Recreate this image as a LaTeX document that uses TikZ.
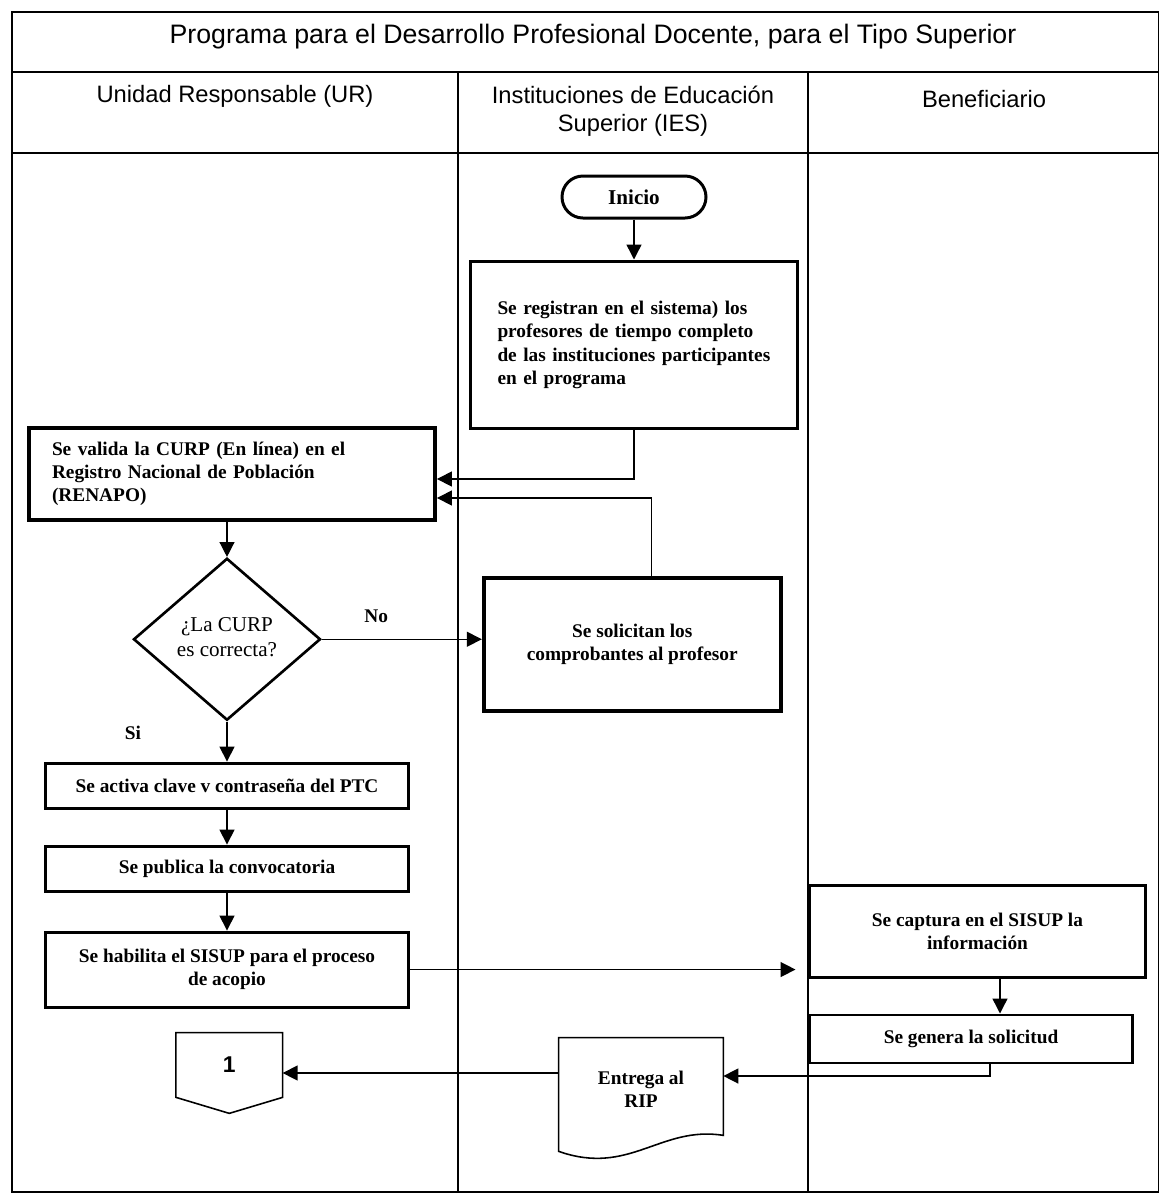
\documentclass[tikz,border=0pt]{standalone}
\usepackage{fontspec}
\setmainfont{Liberation Serif}
\newfontfamily\arial{Liberation Sans}
\usetikzlibrary{arrows.meta, shapes, positioning}

\tikzset{
  caja/.style={draw, line width=1.7pt, font=\bfseries\fontsize{11}{13.2}\selectfont, align=center, inner sep=2pt},
  cajag/.style={caja, line width=2.2pt},
  flecha/.style={-{Triangle[length=8.5pt,width=8.5pt]}, line width=0.8pt},
  etq/.style={font=\bfseries\fontsize{11}{13.2}\selectfont},
  carril/.style={line width=0.9pt},
  titulo/.style={font=\arial\fontsize{13.5}{16}\selectfont, align=center}
}

\begin{document}
\begin{tikzpicture}
\useasboundingbox (0,0) rectangle (23.2,-24.06);
% marco y carriles
\draw[carril] (0.24,-0.24) rectangle (23.17,-23.84);
\draw[carril] (0.24,-1.44) -- (23.17,-1.44);
\draw[carril] (0.24,-3.06) -- (23.17,-3.06);
\draw[carril] (9.16,-1.44) -- (9.16,-23.84);
\draw[carril] (16.16,-1.44) -- (16.16,-23.84);

\node[titulo, font=\arial\fontsize{15.2}{18}\selectfont] (tit) at (11.86,-0.74) {Programa para el Desarrollo Profesional Docente, para el Tipo Superior};
\node[titulo] (ur) at (4.7,-1.92) {Unidad Responsable (UR)};
\node[titulo] (ies) at (12.66,-2.22) {Instituciones de Educación\\Superior (IES)};
\node[titulo] (ben) at (19.68,-1.98) {Beneficiario};

% Instituciones
\node[caja, rounded corners=0.42cm, minimum width=2.88cm, minimum height=0.84cm, font=\bfseries\fontsize{12}{14}\selectfont] (inicio) at (12.68,-3.94) {Inicio};
\node[cajag, minimum width=6.54cm, minimum height=3.34cm, text width=5.46cm, align=left] (registro) [below = 0.8cm of inicio] {Se registran en el sistema) los\\profesores de tiempo completo\\de las instituciones participantes\\en el programa};

% Unidad responsable
\node[cajag, minimum width=8.12cm, minimum height=1.84cm, text width=7.2cm, align=left] (valida) at (4.64,-9.48) {Se valida la CURP (En línea) en el\\Registro Nacional de Población\\(RENAPO)};
\node[diamond, draw, line width=1.5pt, minimum width=3.74cm, minimum height=3.24cm, inner sep=0pt, font=\fontsize{12}{14}\selectfont] (curp) [below = 0.7cm of valida, xshift=-0.1cm] {\raisebox{4pt}{\begin{tabular}{@{}c@{}}¿La CURP\\es correcta?\end{tabular}}};
\node[cajag, minimum width=5.94cm, minimum height=2.66cm] (solicita) [right = 3.2cm of curp, yshift=-0.1cm] {Se solicitan los\\comprobantes al profesor};
\node[caja, minimum width=7.26cm, minimum height=0.9cm] (activa) [below = 0.8cm of curp] {Se activa clave v contraseña del PTC};
\node[caja, minimum width=7.26cm, minimum height=0.9cm] (publica) [below = 0.7cm of activa] {Se publica la convocatoria};
\node[caja, minimum width=7.26cm, minimum height=1.5cm] (habilita) [below = 0.76cm of publica] {Se habilita el SISUP para el proceso\\de acopio};

% Beneficiario
\node[caja, minimum width=6.7cm, minimum height=1.84cm] (captura) at (19.55,-18.62) {Se captura en el SISUP la\\información};
\node[caja, minimum width=6.44cm, minimum height=0.96cm] (genera) [below = 0.7cm of captura, xshift=-0.13cm] {Se genera la solicitud};

\node[etq, minimum width=3.28cm, minimum height=2.04cm, align=center] (entrega) at (12.82,-21.78) {Entrega al\\RIP};
\draw[line width=0.9pt] (entrega.north west) -- (entrega.north east) -- ([yshift=0.1cm]entrega.south east) .. controls +(-1.26,0.2) and +(1.42,-0.5) .. ([yshift=-0.22cm]entrega.south west) -- cycle;

\node[minimum width=2.12cm, minimum height=1.28cm, font=\arial\bfseries\fontsize{13}{15}\selectfont] (conector) [left = 5.52cm of entrega, yshift=0.48cm] {1};
\draw[line width=0.9pt] (conector.north west) -- (conector.north east) -- (conector.south east) -- ([yshift=-0.32cm]conector.south) -- (conector.south west) -- cycle;

\path[flecha] (inicio) edge (registro);
\draw[flecha] (registro.south) |- ([yshift=-0.1cm]valida.east);
\draw[flecha] ([xshift=0.38cm]solicita.north) |- ([yshift=-0.48cm]valida.east);
\draw[flecha] (valida.south -| curp.north) -- (curp.north);
\draw[flecha] (curp.east) -- node[etq, pos=0.34, yshift=0.46cm] {No} (curp.east -| solicita.west);
\draw[flecha] (curp.south) -- node[etq, pos=0.28, xshift=-1.88cm] {Si} (activa.north);
\path[flecha] (activa) edge (publica);
\path[flecha] (publica) edge (habilita);
\draw[flecha] (habilita.east) -- ([xshift=-0.26cm]habilita.east -| captura.west);
\draw[flecha] ([xshift=0.45cm]captura.south) -- ([xshift=0.45cm]captura.south |- genera.north);
\draw[flecha] ([xshift=0.38cm]genera.south) |- ([yshift=0.26cm]entrega.east);
\draw[flecha] ([yshift=0.32cm]entrega.west) -- ([yshift=0.32cm]entrega.west -| conector.east);
\end{tikzpicture}
\end{document}
